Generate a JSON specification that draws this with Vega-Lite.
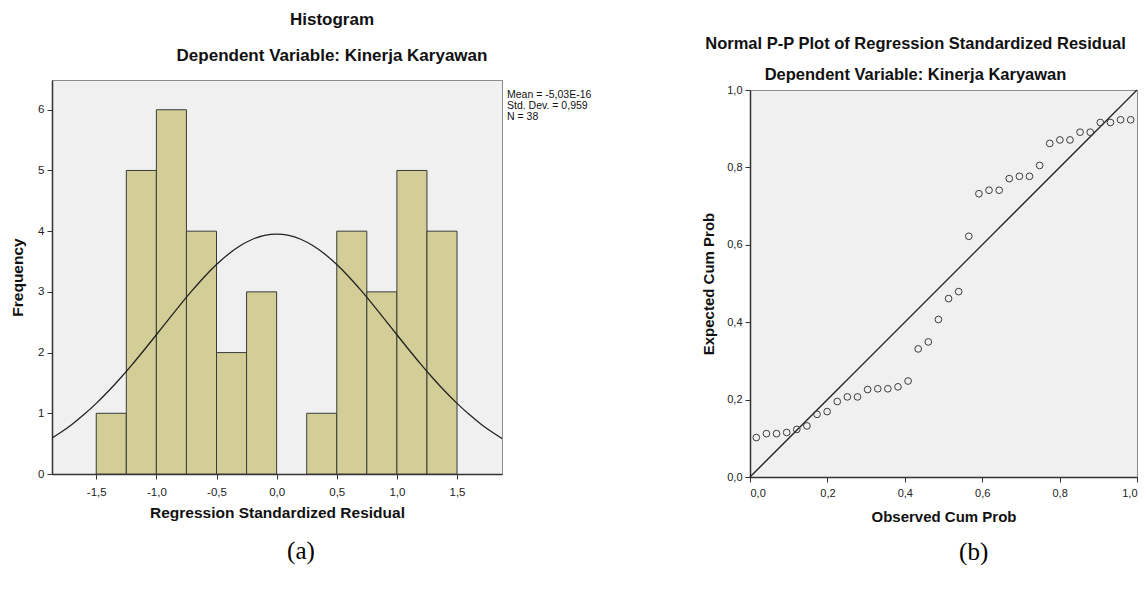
{
  "$schema": "https://vega.github.io/schema/vega-lite/v6.json",
  "background": "white",
  "padding": {"left": 10, "top": 10, "right": 0, "bottom": 0},
  "spacing": 109,
  "config": {
    "font": "Liberation Sans",
    "view": {"fill": "#f0f0f0", "stroke": "#8c8c8c", "strokeWidth": 1},
    "axis": {
      "grid": false,
      "domainColor": "#333333",
      "domainWidth": 1.5,
      "tickColor": "#333333",
      "tickSize": 5,
      "tickWidth": 1,
      "labelColor": "#222222",
      "labelFont": "Liberation Sans",
      "titleFont": "Liberation Sans",
      "titleFontWeight": "bold",
      "titleColor": "#111111",
      "labelPadding": 3
    },
    "locale": {"number": {"decimal": ",", "thousands": ".", "grouping": [3], "currency": ["", ""], "minus": "-"}}
  },
  "hconcat": [
    {
      "title": {"text": "(a)", "orient": "bottom", "anchor": "middle", "font": "Liberation Serif", "fontSize": 25, "fontWeight": "normal", "color": "#000000", "offset": 17},
      "vconcat": [
        {
          "width": 450,
          "height": 394,
          "title": {
            "text": "Histogram",
            "subtitle": "Dependent Variable: Kinerja Karyawan",
            "anchor": "middle",
            "frame": "group",
            "dx": 55,
            "fontSize": 17,
            "fontWeight": "bold",
            "color": "#111111",
            "subtitleFontSize": 17,
            "subtitleFontWeight": "bold",
            "subtitleColor": "#111111",
            "subtitleFont": "Liberation Sans",
            "subtitlePadding": 19,
            "offset": 15
          },
          "layer": [
            {
              "data": {"values": [
                {"start": -1.5, "end": -1.25, "count": 1},
                {"start": -1.25, "end": -1.0, "count": 5},
                {"start": -1.0, "end": -0.75, "count": 6},
                {"start": -0.75, "end": -0.5, "count": 4},
                {"start": -0.5, "end": -0.25, "count": 2},
                {"start": -0.25, "end": 0.0, "count": 3},
                {"start": 0.25, "end": 0.5, "count": 1},
                {"start": 0.5, "end": 0.75, "count": 4},
                {"start": 0.75, "end": 1.0, "count": 3},
                {"start": 1.0, "end": 1.25, "count": 5},
                {"start": 1.25, "end": 1.5, "count": 4}
              ]},
              "mark": {"type": "bar", "fill": "#d3ce97", "stroke": "#3a3a3a", "strokeWidth": 1},
              "encoding": {
                "x": {"field": "start", "type": "quantitative",
                  "scale": {"domain": [-1.868, 1.874], "nice": false, "zero": false},
                  "axis": {"values": [-1.5, -1, -0.5, 0, 0.5, 1, 1.5], "format": ".1f", "labelFontSize": 11.5, "labelPadding": 7, "title": "Regression Standardized Residual", "titleFontSize": 15.5, "titlePadding": 8}},
                "x2": {"field": "end"},
                "y": {"field": "count", "type": "quantitative",
                  "scale": {"domain": [0, 6.49], "nice": false},
                  "axis": {"values": [0, 1, 2, 3, 4, 5, 6], "format": "d", "labelFontSize": 11.5, "title": "Frequency", "titleFontSize": 15.5, "titlePadding": 12}},
                "y2": {"datum": 0}
              }
            },
            {
              "data": {"values": [
                {"x": -1.9, "y": 0.555}, {"x": -1.8, "y": 0.679}, {"x": -1.7, "y": 0.821}, {"x": -1.6, "y": 0.983},
                {"x": -1.5, "y": 1.163}, {"x": -1.4, "y": 1.362}, {"x": -1.3, "y": 1.577}, {"x": -1.2, "y": 1.806},
                {"x": -1.1, "y": 2.047}, {"x": -1.0, "y": 2.294}, {"x": -0.9, "y": 2.544}, {"x": -0.8, "y": 2.791},
                {"x": -0.7, "y": 3.028}, {"x": -0.6, "y": 3.25}, {"x": -0.5, "y": 3.45}, {"x": -0.4, "y": 3.623},
                {"x": -0.3, "y": 3.763}, {"x": -0.2, "y": 3.867}, {"x": -0.1, "y": 3.931}, {"x": 0.0, "y": 3.952},
                {"x": 0.1, "y": 3.931}, {"x": 0.2, "y": 3.867}, {"x": 0.3, "y": 3.763}, {"x": 0.4, "y": 3.623},
                {"x": 0.5, "y": 3.45}, {"x": 0.6, "y": 3.25}, {"x": 0.7, "y": 3.028}, {"x": 0.8, "y": 2.791},
                {"x": 0.9, "y": 2.544}, {"x": 1.0, "y": 2.294}, {"x": 1.1, "y": 2.047}, {"x": 1.2, "y": 1.806},
                {"x": 1.3, "y": 1.577}, {"x": 1.4, "y": 1.362}, {"x": 1.5, "y": 1.163}, {"x": 1.6, "y": 0.983},
                {"x": 1.7, "y": 0.821}, {"x": 1.8, "y": 0.679}, {"x": 1.9, "y": 0.555}
              ]},
              "mark": {"type": "line", "color": "#222222", "strokeWidth": 1.3, "clip": true, "interpolate": "monotone"},
              "encoding": {
                "x": {"field": "x", "type": "quantitative"},
                "y": {"field": "y", "type": "quantitative"}
              }
            },
            {
              "data": {"values": [{"mean": "-5,03E-16", "sd": "0,959", "n": 38}]},
              "mark": {"type": "text", "text": ["Mean = -5,03E-16", "Std. Dev. = 0,959", "N = 38"], "align": "left", "baseline": "top", "fontSize": 10.5, "lineHeight": 11, "dx": 5, "color": "#111111"},
              "encoding": {
                "x": {"datum": 1.874, "type": "quantitative"},
                "y": {"datum": 6.33, "type": "quantitative"}
              }
            }
          ]
        }
      ]
    },
    {
      "title": {"text": "(b)", "orient": "bottom", "anchor": "middle", "font": "Liberation Serif", "fontSize": 25, "fontWeight": "normal", "color": "#000000", "offset": 15, "dx": 53},
      "spacing": 9,
      "bounds": "flush",
      "vconcat": [
        {
          "width": 387,
          "height": 1,
          "view": {"fill": null, "stroke": null},
          "title": {
            "text": "Normal P-P Plot of Regression Standardized Residual",
            "subtitle": "Dependent Variable: Kinerja Karyawan",
            "anchor": "middle",
            "frame": "group",
            "dx": -28,
            "fontSize": 16.5,
            "fontWeight": "bold",
            "color": "#111111",
            "subtitleFontSize": 16.5,
            "subtitleFontWeight": "bold",
            "subtitleColor": "#111111",
            "subtitleFont": "Liberation Sans",
            "subtitlePadding": 15,
            "offset": -6
          },
          "data": {"values": [{"panel": "b"}]},
          "mark": {"type": "point", "opacity": 0},
          "encoding": {}
        },
        {
          "width": 387,
          "height": 387,
          "layer": [
            {
              "data": {"values": [{"x": 0, "y": 0}, {"x": 1, "y": 1}]},
              "mark": {"type": "line", "color": "#222222", "strokeWidth": 1.3},
              "encoding": {
                "x": {"field": "x", "type": "quantitative",
                  "scale": {"domain": [0, 1], "nice": false},
                  "axis": {"values": [0, 0.2, 0.4, 0.6, 0.8, 1.0], "format": ".1f", "labelFontSize": 11, "labelPadding": 5, "title": "Observed Cum Prob", "titleFontSize": 15, "titlePadding": 11}},
                "y": {"field": "y", "type": "quantitative",
                  "scale": {"domain": [0, 1], "nice": false},
                  "axis": {"values": [0, 0.2, 0.4, 0.6, 0.8, 1.0], "format": ".1f", "labelFontSize": 11, "title": "Expected Cum Prob", "titleFontSize": 15, "titlePadding": 10}}
              }
            },
            {
              "data": {"values": [
                {"obs": 0.0163, "exp": 0.102}, {"obs": 0.0425, "exp": 0.112}, {"obs": 0.0686, "exp": 0.112},
                {"obs": 0.0948, "exp": 0.115}, {"obs": 0.1209, "exp": 0.123}, {"obs": 0.1471, "exp": 0.132},
                {"obs": 0.1732, "exp": 0.162}, {"obs": 0.1993, "exp": 0.169}, {"obs": 0.2255, "exp": 0.195},
                {"obs": 0.2516, "exp": 0.207}, {"obs": 0.2778, "exp": 0.207}, {"obs": 0.3039, "exp": 0.226},
                {"obs": 0.3301, "exp": 0.228}, {"obs": 0.3562, "exp": 0.228}, {"obs": 0.3824, "exp": 0.233},
                {"obs": 0.4085, "exp": 0.248}, {"obs": 0.4346, "exp": 0.331}, {"obs": 0.4608, "exp": 0.349},
                {"obs": 0.4869, "exp": 0.407}, {"obs": 0.5131, "exp": 0.461}, {"obs": 0.5392, "exp": 0.479},
                {"obs": 0.5654, "exp": 0.622}, {"obs": 0.5915, "exp": 0.732}, {"obs": 0.6176, "exp": 0.741},
                {"obs": 0.6438, "exp": 0.741}, {"obs": 0.6699, "exp": 0.771}, {"obs": 0.6961, "exp": 0.777},
                {"obs": 0.7222, "exp": 0.777}, {"obs": 0.7484, "exp": 0.805}, {"obs": 0.7745, "exp": 0.862},
                {"obs": 0.8007, "exp": 0.871}, {"obs": 0.8268, "exp": 0.871}, {"obs": 0.8529, "exp": 0.891},
                {"obs": 0.8791, "exp": 0.891}, {"obs": 0.9052, "exp": 0.916}, {"obs": 0.9314, "exp": 0.916},
                {"obs": 0.9575, "exp": 0.923}, {"obs": 0.9837, "exp": 0.923}
              ]},
              "mark": {"type": "point", "shape": "circle", "filled": false, "size": 45, "stroke": "#3c3c3c", "strokeWidth": 1, "opacity": 1},
              "encoding": {
                "x": {"field": "obs", "type": "quantitative"},
                "y": {"field": "exp", "type": "quantitative"}
              }
            }
          ]
        }
      ]
    }
  ]
}
